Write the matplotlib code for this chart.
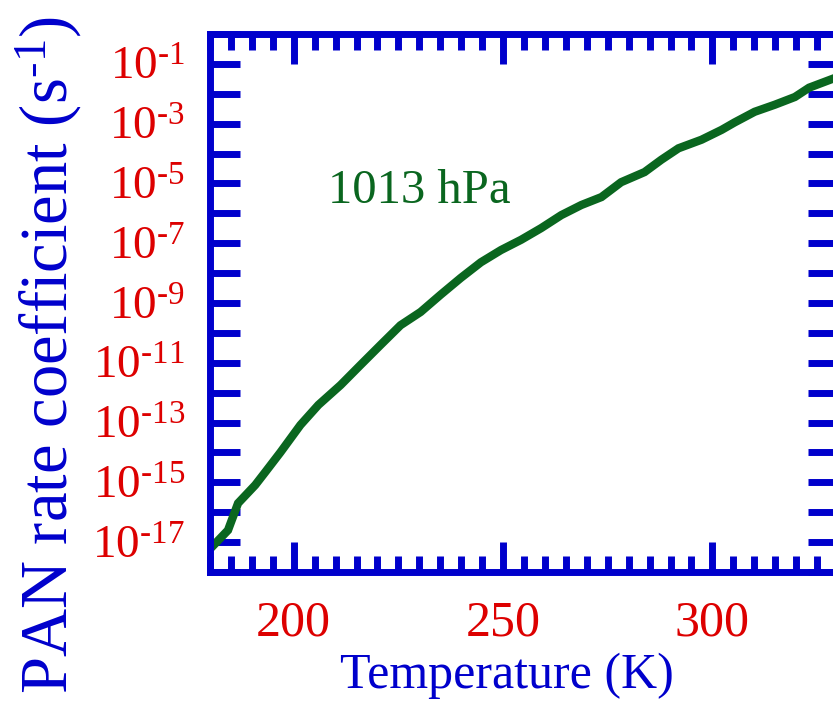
import numpy as np
import matplotlib
matplotlib.use("Agg")
import matplotlib.pyplot as plt
from matplotlib.ticker import LogLocator, MultipleLocator, NullLocator, FuncFormatter

plt.rcParams['font.family'] = ['Liberation Serif', 'DejaVu Serif']
plt.rcParams['mathtext.fontset'] = 'custom'
plt.rcParams['mathtext.rm'] = 'Liberation Serif'
plt.rcParams['mathtext.it'] = 'Liberation Serif:italic'

# temperature (K) and PAN thermal decomposition rate coefficient (s^-1)
temperature = [180.2, 184.3, 186.7, 190.8, 193.2, 196.8, 201.6, 205.9, 211.2, 215.9,
               220.7, 225.5, 230.3, 235.1, 239.9, 244.7, 249.5, 254.3, 259.1, 263.9,
               268.7, 273.5, 278.2, 283.8, 287.8, 291.9, 297.4, 302.2, 305.3, 310.1,
               314.9, 319.7, 323.1, 329.3]
rate_coeff = [6.3e-18, 2.5e-17, 2.0e-16, 8.1e-16, 2.2e-15, 1.0e-14, 8.3e-14, 3.9e-13,
              1.8e-12, 8.3e-12, 3.9e-11, 1.8e-10, 5.0e-10, 1.9e-9, 6.9e-9, 2.3e-8,
              5.9e-8, 1.3e-7, 3.2e-7, 8.7e-7, 1.9e-6, 3.5e-6, 1.1e-5, 2.4e-5,
              6.2e-5, 1.5e-4, 2.9e-4, 6.2e-4, 1.1e-3, 2.5e-3, 4.3e-3, 7.8e-3,
              1.6e-2, 3.4e-2]

xlim = (180, 330)
ylim = (1e-18, 1e0)

blue = '#0000cc'
red = '#dd0000'
green = '#0a661f'
HY = '\u2010'  # short hyphen like the original superscripts

fig = plt.figure(figsize=(8.33, 7.03), dpi=100)
ax = fig.add_axes([210 / 833, 131 / 703, 628 / 833, 538 / 703])

ax.plot(temperature, rate_coeff, color=green, lw=6, solid_joinstyle='miter')
ax.set_yscale('log')
ax.set_xlim(*xlim)
ax.set_ylim(*ylim)

# ticks
ax.xaxis.set_major_locator(MultipleLocator(50))
ax.xaxis.set_minor_locator(MultipleLocator(5))
ax.yaxis.set_major_locator(LogLocator(base=10, subs=[1.0], numticks=40))
ax.yaxis.set_minor_locator(NullLocator())


def ylab(v, pos):
    e = int(round(np.log10(v)))
    if e % 2 == 0:
        return ''
    return r'$\mathregular{10^{%s%d}}$' % (HY, abs(e))


ax.yaxis.set_major_formatter(FuncFormatter(ylab))

ax.tick_params(which='both', direction='in', top=True, right=True,
               color=blue, width=5)
ax.tick_params(which='major', length=21.5)
ax.tick_params(which='minor', length=11.5)
ax.tick_params(axis='x', which='major', labelsize=36, labelcolor=red, pad=20)
ax.tick_params(axis='y', which='major', labelsize=34, labelcolor=red, pad=18)

for s in ax.spines.values():
    s.set_color(blue)
    s.set_linewidth(5)

ax.text(0.188, 0.686, '1013 hPa', transform=ax.transAxes, color=green,
        fontsize=35, ha='left', va='baseline')

fig.text(507 / 833, 0.006, 'Temperature (K)', color=blue, fontsize=36,
         ha='center', va='bottom')
fig.text(49 / 833, 1 - 355 / 703,
         r'PAN rate coefficient (s$^{\mathregular{%s1}}$)' % HY,
         color=blue, fontsize=48, rotation=90, ha='center', va='center')

fig.savefig('out.png', dpi=100)
